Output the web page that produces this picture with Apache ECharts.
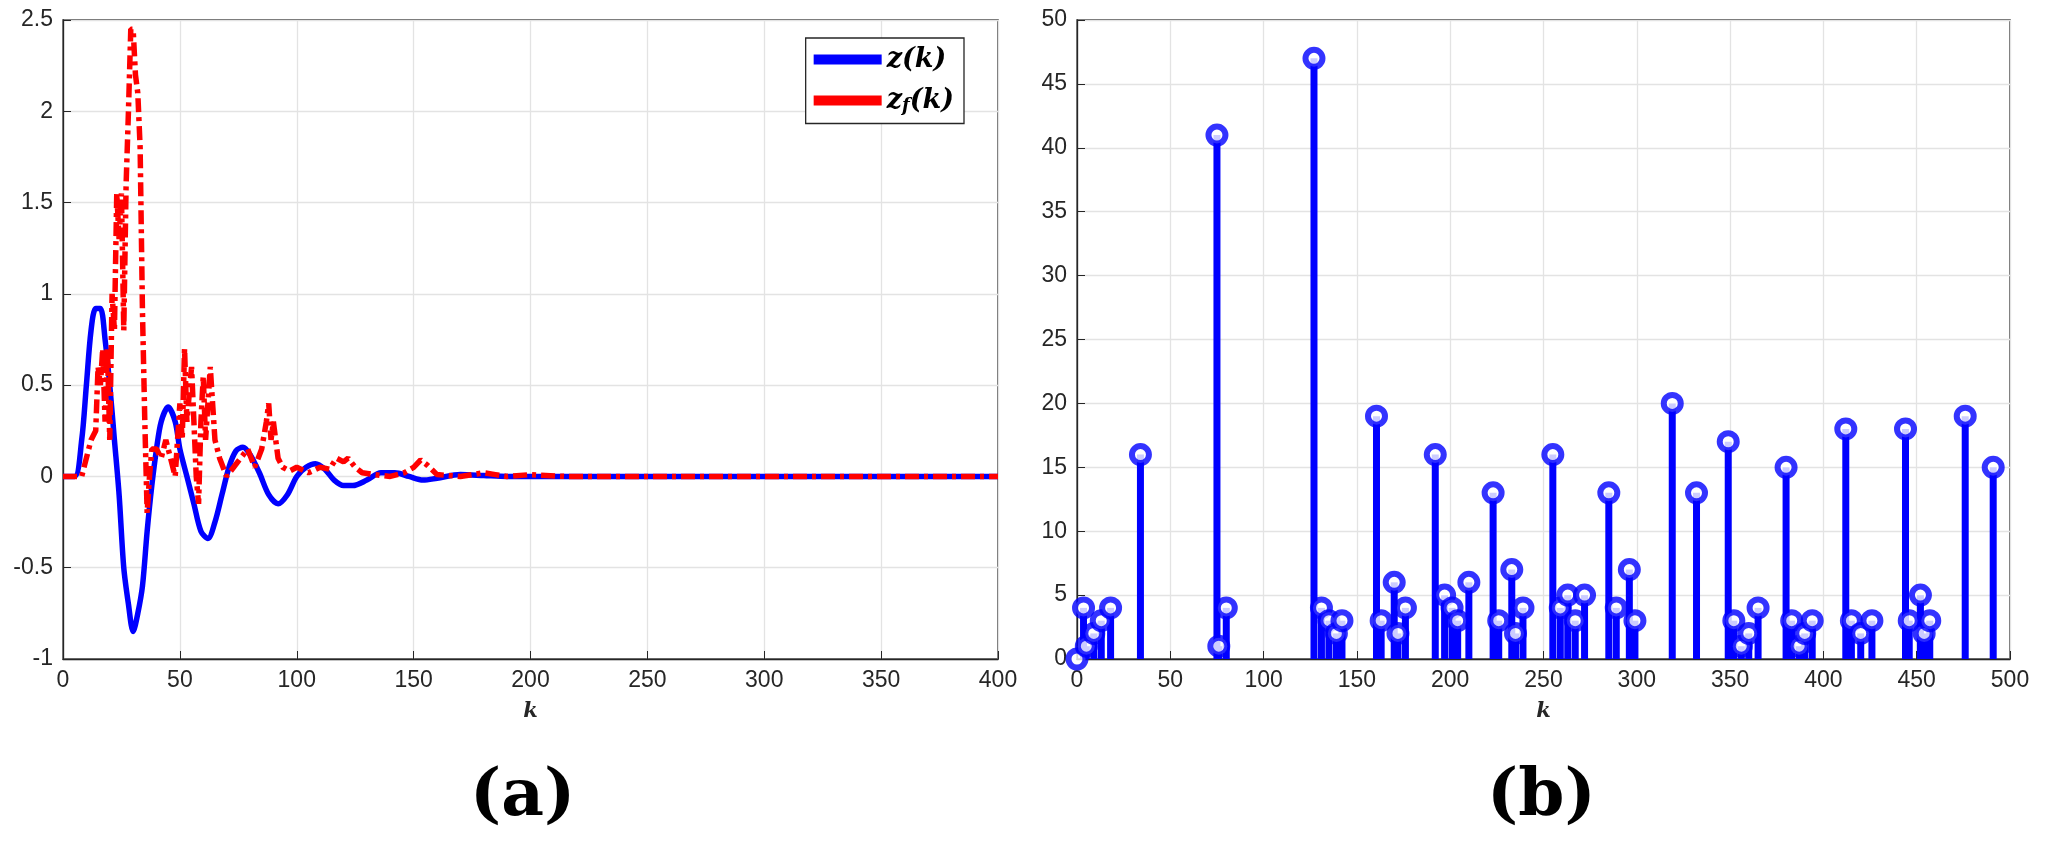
<!DOCTYPE html>
<html>
<head>
<meta charset="utf-8">
<script src="https://cdn.jsdelivr.net/npm/echarts@6/dist/echarts.min.js"></script>
<style>
  html, body { margin: 0; padding: 0; background: #fff; }
  #chart { width: 2046px; height: 857px; }
</style>
</head>
<body>
<div id="chart"></div>
<script>
// (a) z(k) and z_f(k), sampled points [k, value]
const zK = [
  [0,0],[5,0],[8,0.2],[10,0.5],[12,0.8],[14,0.92],[16,0.92],[18,0.75],[20,0.5],[22,0.2],
  [24,-0.1],[26,-0.5],[28,-0.7],[30,-0.85],[32,-0.75],[34,-0.6],[36,-0.3],[38,-0.05],
  [40,0.15],[42,0.3],[45,0.38],[48,0.3],[50,0.15],[53,0.0],[56,-0.15],[59,-0.3],[62,-0.34],
  [65,-0.25],[68,-0.1],[71,0.05],[74,0.14],[77,0.16],[80,0.12],[84,0.02],[88,-0.1],[92,-0.15],
  [96,-0.1],[100,0],[104,0.05],[108,0.07],[112,0.04],[116,-0.02],[120,-0.05],[124,-0.05],
  [130,-0.02],[136,0.02],[142,0.02],[148,0],[154,-0.02],[160,-0.01],[170,0.01],[180,0.005],
  [190,0],[400,0]
];
const zfK = [
  [0,0],[8,0],[10,0.1],[12,0.2],[14,0.25],[15,0.6],[16,0.5],[17,0.7],[18,0.3],[19,0.7],[20,0.2],
  [21,1.0],[22,0.8],[23,1.55],[24,1.3],[25,1.55],[26,0.8],[27,1.6],[28,2.0],[29,2.45],[30,2.45],
  [31,2.2],[32,2.1],[33,1.8],[34,0.9],[35,0.3],[36,-0.2],[37,0.0],[38,0.15],[40,0.15],[42,0.1],
  [44,0.2],[46,0.1],[48,0.0],[50,0.4],[51,0.2],[52,0.7],[53,0.3],[55,0.6],[57,0.0],[58,-0.15],
  [59,0.3],[60,0.55],[61,0.2],[63,0.6],[65,0.2],[67,0.1],[70,0.0],[73,0.05],[76,0.1],[79,0.15],
  [82,0.05],[85,0.15],[87,0.3],[88,0.4],[89,0.2],[90,0.3],[92,0.1],[94,0.05],[97,0.03],[100,0.05],
  [105,0.02],[110,0.05],[114,0.04],[117,0.1],[120,0.08],[122,0.1],[125,0.05],[128,0.02],[133,0.01],
  [140,0.0],[146,0.02],[150,0.05],[153,0.09],[156,0.06],[160,0.01],[170,0.0],[180,0.02],[185,0.01],
  [190,0.0],[200,0.01],[215,0],[400,0]
];
// (b) stem plot
const stemK = [0,3.5,5,9,13,18,34,75,76,80,127,131,135,139,142,160.5,163,170,172,176,192,197,201,204,210,
  223,226,233,235,239,255,259,263,267,272,285,289,296,299,319,332,349,352,356,360,365,380,383,387,390,394,
  412,415,420,426,444,446,452,454,457,476,491];
const stemV = [0,4,1,2,3,4,16,41,1,4,47,4,3,2,3,19,3,6,2,4,16,5,4,3,6,
  13,3,7,2,4,16,4,5,3,5,13,4,7,3,20,13,17,3,1,2,4,15,3,1,2,3,
  18,3,2,3,18,3,5,2,3,19,15];

const stemData = stemK.map((k, i) => [k, stemV[i]]);
const tickFont = { fontFamily: 'Liberation Sans Narrow, Liberation Sans', fontSize: 23, color: '#262626', margin: 10 };
const kName = { fontFamily: 'DejaVu Serif', fontStyle: 'italic', fontWeight: 'bold', fontSize: 21, color: '#262626' };

function axisBase(min, max, interval) {
  return {
    type: 'value', min: min, max: max, interval: interval,
    axisLine: { show: true, onZero: false, lineStyle: { color: '#262626', width: 1.3 } },
    axisTick: { show: true, inside: true, length: 8, lineStyle: { color: '#262626' } },
    axisLabel: tickFont,
    splitLine: { show: true, lineStyle: { color: '#e3e3e3', width: 1.3 } }
  };
}

const chart = echarts.init(document.getElementById('chart'));
chart.setOption({
  animation: false,
  backgroundColor: '#fff',
  grid: [
    { left: 63, top: 20, width: 935, height: 639, show: true, borderColor: '#262626', borderWidth: 1.3 },
    { left: 1077, top: 20, width: 933, height: 639, show: true, borderColor: '#262626', borderWidth: 1.3 }
  ],
  xAxis: [
    Object.assign(axisBase(0, 400, 50), { gridIndex: 0, name: 'k', nameLocation: 'middle', nameGap: 42, nameTextStyle: kName }),
    Object.assign(axisBase(0, 500, 50), { gridIndex: 1, name: 'k', nameLocation: 'middle', nameGap: 42, nameTextStyle: kName })
  ],
  yAxis: [
    Object.assign(axisBase(-1, 2.5, 0.5), { gridIndex: 0 }),
    Object.assign(axisBase(0, 50, 5), { gridIndex: 1 })
  ],
  legend: {
    right: 1082, top: 38, orient: 'vertical', itemWidth: 68, itemHeight: 10, itemGap: 14,
    backgroundColor: '#fff', borderColor: '#262626', borderWidth: 1.3, padding: [8, 10, 8, 8],
    data: [
      { name: 'z(k)', icon: 'rect', itemStyle: { color: '#0000ff' } },
      { name: 'z_f(k)', icon: 'rect', itemStyle: { color: '#ff0000' } }
    ],
    formatter: function (n) { return n === 'z_f(k)' ? '{a|z}{s|f}{a|(k)}' : '{a|z(k)}'; },
    textStyle: {
      rich: {
        a: { fontFamily: 'DejaVu Serif', fontStyle: 'italic', fontWeight: 'bold', fontSize: 27, color: '#000' },
        s: { fontFamily: 'DejaVu Serif', fontStyle: 'italic', fontWeight: 'bold', fontSize: 18, color: '#000', verticalAlign: 'bottom', padding: [12, 0, 0, 0] }
      }
    }
  },
  graphic: [
    { type: 'text', left: 470, top: 765, style: { text: '(a)', fontFamily: 'DejaVu Serif', fontWeight: 'bold', fontSize: 66, fill: '#000' } },
    { type: 'text', left: 1487, top: 765, style: { text: '(b)', fontFamily: 'DejaVu Serif', fontWeight: 'bold', fontSize: 66, fill: '#000' } }
  ],
  series: [
    { name: 'z(k)', type: 'line', xAxisIndex: 0, yAxisIndex: 0, data: zK, smooth: 0.3, showSymbol: false,
      lineStyle: { color: '#0000ff', width: 5.5 }, itemStyle: { color: '#0000ff' } },
    { name: 'z_f(k)', type: 'line', xAxisIndex: 0, yAxisIndex: 0, data: zfK, showSymbol: false,
      lineStyle: { color: '#ff0000', width: 5.5, type: [14, 5, 4, 5] }, itemStyle: { color: '#ff0000' } },
    { type: 'bar', xAxisIndex: 1, yAxisIndex: 1, data: stemData, barWidth: 7, itemStyle: { color: '#0000ff' } },
    { type: 'scatter', xAxisIndex: 1, yAxisIndex: 1, data: stemData, symbol: 'circle', symbolSize: 17,
      itemStyle: { color: '#ffffff', borderColor: '#0000ff', borderWidth: 6 } }
  ]
});
</script>
</body>
</html>
